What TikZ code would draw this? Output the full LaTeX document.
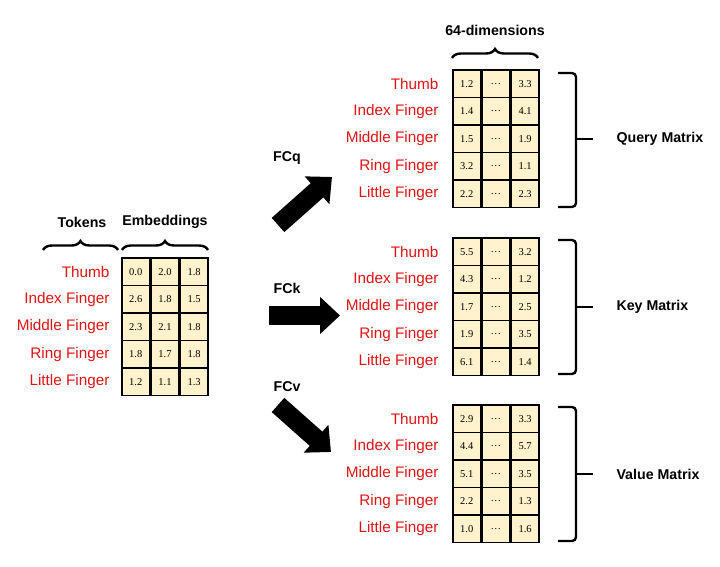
\documentclass[tikz,border=0pt]{standalone}
\usepackage{fontspec}
\setmainfont{Liberation Serif}
\setsansfont{Liberation Sans}
\usetikzlibrary{arrows.meta,decorations.pathreplacing}
\definecolor{cellfill}{HTML}{FFF2CC}
\definecolor{tokred}{RGB}{224,20,20}
\begin{document}
\begin{tikzpicture}[x=1pt,y=-1pt,
  cell/.style={draw,line width=1.7pt,fill=cellfill,minimum width=27.5pt,minimum height=27.5pt,inner sep=0pt,font=\fontsize{10.5}{12}\selectfont},
  tok/.style={anchor=east,text=tokred,font=\sffamily\fontsize{15.3}{17}\selectfont},
  head/.style={font=\sffamily\bfseries\fontsize{14.2}{16}\selectfont},
  fcarrow/.style={line width=19pt,-{Triangle[width=36pt,length=20pt]}},
  brc/.style={decorate,decoration={brace,amplitude=9pt},line width=2.4pt}]
\useasboundingbox (0,0) rectangle (720,567);
%Dau vao
\node[head] (tokens) at (82,222) {Tokens};
\node[head] (embed) at (165,222) {Embeddings};
\draw[brc] (43,250) -- (118,250);
\draw[brc] (122,250) -- (208,250);
\foreach \r/\t/\a/\b/\c in {1/Thumb/0.0/2.0/1.8, 2/Index Finger/2.6/1.8/1.5, 3/Middle Finger/2.3/2.1/1.8, 4/Ring Finger/1.8/1.7/1.8, 5/Little Finger/1.2/1.1/1.3}{
  \node[tok] (et\r) at (113,{244.25+27.5*\r}) {\t};
  \node[cell] (e\r a) at (135.75,{244.25+27.5*\r}) {\a};
  \node[cell,anchor=west] (e\r b) at (e\r a.east) {\b};
  \node[cell,anchor=west] (e\r c) at (e\r b.east) {\c};
}
%Mui ten FCq, FCk, FCv
\node[head] (fcq) at (287,158) {FCq};
\coordinate (q0) at (278,225); \coordinate (q1) at (332,177);
\draw[fcarrow] (q0) -- (q1);
\node[head] (fck) at (287,288) {FCk};
\coordinate (k0) at (269,315.5); \coordinate (k1) at (340,315.5);
\draw[fcarrow] (k0) -- (k1);
\node[head] (fcv) at (287,387) {FCv};
\coordinate (v0) at (278,405); \coordinate (v1) at (331,452);
\draw[fcarrow] (v0) -- (v1);
%64 chieu
\node[head] (dims) at (495,30) {64-dimensions};
\draw[brc] (452,58) -- (538,58);
%Query Matrix
\foreach \r/\t/\a/\c in {1/Thumb/1.2/3.3, 2/Index Finger/1.4/4.1, 3/Middle Finger/1.5/1.9, 4/Ring Finger/3.2/1.1, 5/Little Finger/2.2/2.3}{
  \node[tok] (qt\r) at (442,{56.25+27.5*\r}) {\t};
  \node[cell] (q\r a) at (466.75,{56.25+27.5*\r}) {\a};
  \node[cell,anchor=west] (q\r b) at (q\r a.east) {\dots};
  \node[cell,anchor=west] (q\r c) at (q\r b.east) {\c};
}
\draw[line width=2.4pt,rounded corners=4pt] (558,73) -| (576,139) |- (558,207);
\draw[line width=2.4pt] (576,139) -- (593,139);
\node[head,anchor=west] (qm) at (613,139) {Query Matrix};
%Key Matrix
\foreach \r/\t/\a/\c in {1/Thumb/5.5/3.2, 2/Index Finger/4.3/1.2, 3/Middle Finger/1.7/2.5, 4/Ring Finger/1.9/3.5, 5/Little Finger/6.1/1.4}{
  \node[tok] (kt\r) at (442,{224.25+27.5*\r}) {\t};
  \node[cell] (k\r a) at (466.75,{224.25+27.5*\r}) {\a};
  \node[cell,anchor=west] (k\r b) at (k\r a.east) {\dots};
  \node[cell,anchor=west] (k\r c) at (k\r b.east) {\c};
}
\draw[line width=2.4pt,rounded corners=4pt] (558,240) -| (576,307) |- (558,374);
\draw[line width=2.4pt] (576,307) -- (593,307);
\node[head,anchor=west] (km) at (613,307) {Key Matrix};
%Value Matrix
\foreach \r/\t/\a/\c in {1/Thumb/2.9/3.3, 2/Index Finger/4.4/5.7, 3/Middle Finger/5.1/3.5, 4/Ring Finger/2.2/1.3, 5/Little Finger/1.0/1.6}{
  \node[tok] (vt\r) at (442,{391.25+27.5*\r}) {\t};
  \node[cell] (v\r a) at (466.75,{391.25+27.5*\r}) {\a};
  \node[cell,anchor=west] (v\r b) at (v\r a.east) {\dots};
  \node[cell,anchor=west] (v\r c) at (v\r b.east) {\c};
}
\draw[line width=2.4pt,rounded corners=4pt] (558,407) -| (576,474) |- (558,541);
\draw[line width=2.4pt] (576,474) -- (593,474);
\node[head,anchor=west] (vm) at (613,474) {Value Matrix};
\end{tikzpicture}
\end{document}
